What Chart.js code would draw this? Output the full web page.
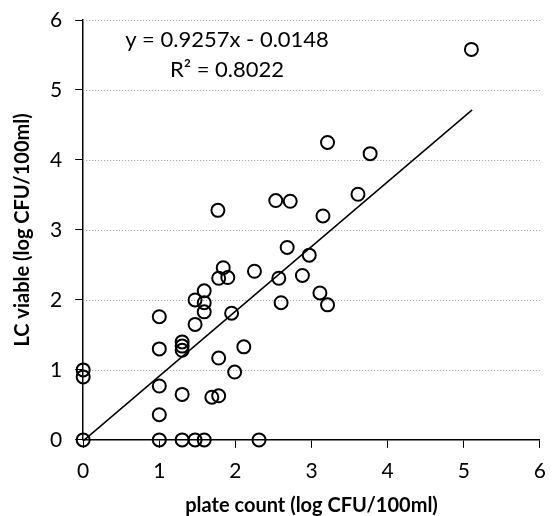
<!DOCTYPE html>
<html>
<head>
<meta charset="utf-8">
<script src="https://cdn.jsdelivr.net/npm/chart.js@4/dist/chart.umd.min.js"></script>
<style>
  html, body { margin: 0; padding: 0; background: #fff; }
  #wrap { width: 558px; height: 516px; }
</style>
</head>
<body>
<div id="wrap"><canvas id="chart"></canvas></div>
<script>
// plate count (x) and LC viable (y)
const plateCount = [0, 0, 0, 1, 1, 1, 1, 1, 1.30, 1.30, 1.30, 1.30, 1.30, 1.47, 1.47, 1.47,
  1.59, 1.59, 1.59, 1.59, 1.69, 1.78, 1.78, 1.78, 1.84, 1.90, 1.95, 1.99, 2.11, 2.25, 2.31,
  2.57, 2.60, 2.68, 2.88, 2.97, 3.11, 3.21, 1.77, 2.53, 2.72, 3.15, 3.21, 3.61, 3.77, 5.10];
const lcViable = [0, 0.90, 1.00, 1.76, 1.30, 0.77, 0.36, 0, 1.40, 1.34, 1.28, 0.65, 0, 2.00, 1.65, 0,
  2.13, 1.96, 1.83, 0, 0.61, 2.31, 1.17, 0.63, 2.46, 2.32, 1.81, 0.97, 1.33, 2.41, 0,
  2.31, 1.96, 2.75, 2.35, 2.64, 2.10, 1.93, 3.28, 3.42, 3.41, 3.20, 4.25, 3.51, 4.09, 5.58];

// linear trendline
const slope = 0.9257;
const intercept = -0.0148;
const trendX = [0, 5.11];
const eqText = 'y = 0.9257x - 0.0148';
const r2Text = 'R² = 0.8022';

const xTicks = [0, 1, 2, 3, 4, 5, 6];
const yTicks = [0, 1, 2, 3, 4, 5, 6];

const fontFam = 'Lato, "Open Sans", sans-serif';

const points = plateCount.map((x, i) => ({ x: x, y: lcViable[i] }));
const trend = trendX.map(x => ({ x: x, y: slope * x + intercept }));

// dotted horizontal gridlines + equation label
const extras = {
  id: 'extras',
  beforeDatasetsDraw(chart) {
    const { ctx, chartArea, scales } = chart;
    ctx.save();
    ctx.strokeStyle = '#9a9a9a';
    ctx.lineWidth = 1;
    ctx.setLineDash([1, 2]);
    yTicks.forEach(v => {
      if (v === 0) return;
      const y = Math.round(scales.y.getPixelForValue(v)) + 0.5;
      ctx.beginPath();
      ctx.moveTo(chartArea.left, y);
      ctx.lineTo(chartArea.right, y);
      ctx.stroke();
    });
    ctx.restore();
  },
  afterDatasetsDraw(chart) {
    const { ctx } = chart;
    ctx.save();
    ctx.fillStyle = '#000';
    ctx.font = '22px ' + fontFam;
    ctx.textAlign = 'center';
    ctx.textBaseline = 'middle';
    ctx.fillText(eqText, 227, 40);
    ctx.fillText(r2Text, 227, 70);
    ctx.restore();
  }
};

new Chart(document.getElementById('chart'), {
  type: 'scatter',
  data: {
    datasets: [
      {
        label: 'data',
        data: points,
        clip: false,
        pointRadius: 6.5,
        pointHoverRadius: 6.5,
        pointBorderWidth: 2,
        pointBackgroundColor: 'rgba(255,255,255,0)',
        pointBorderColor: '#000'
      },
      {
        label: 'trend',
        type: 'line',
        data: trend,
        clip: false,
        borderColor: '#000',
        borderWidth: 1.5,
        pointRadius: 0,
        fill: false
      }
    ]
  },
  options: {
    responsive: true,
    maintainAspectRatio: false,
    animation: false,
    layout: { padding: { top: 0, right: 15, left: 7, bottom: 0 } },
    plugins: {
      legend: { display: false },
      tooltip: { enabled: false }
    },
    scales: {
      x: {
        type: 'linear',
        min: 0,
        max: 6,
        afterBuildTicks: axis => { axis.ticks = xTicks.map(v => ({ value: v })); },
        grid: { drawOnChartArea: false, drawTicks: true, tickLength: 8, color: '#000' },
        border: { color: '#000', width: 1.5 },
        ticks: { color: '#000', font: { family: fontFam, size: 21, lineHeight: 1.1 }, padding: 12 },
        title: {
          display: true,
          text: 'plate count (log CFU/100ml)',
          color: '#000',
          font: { family: fontFam, size: 20, weight: 'bold', lineHeight: 1.05 },
          padding: { top: 0, bottom: 0 }
        }
      },
      y: {
        type: 'linear',
        min: 0,
        max: 6,
        afterBuildTicks: axis => { axis.ticks = yTicks.map(v => ({ value: v })); },
        afterFit: axis => { axis.paddingTop = 20; },
        grid: { drawOnChartArea: false, drawTicks: true, tickLength: 8, color: '#000' },
        border: { color: '#000', width: 1.5 },
        ticks: { color: '#000', font: { family: fontFam, size: 21, lineHeight: 1.0 }, padding: 13 },
        title: {
          display: true,
          text: 'LC viable (log CFU/100ml)',
          color: '#000',
          font: { family: fontFam, size: 20, weight: 'bold' },
          padding: { bottom: 2 }
        }
      }
    }
  },
  plugins: [extras]
});
</script>
</body>
</html>
